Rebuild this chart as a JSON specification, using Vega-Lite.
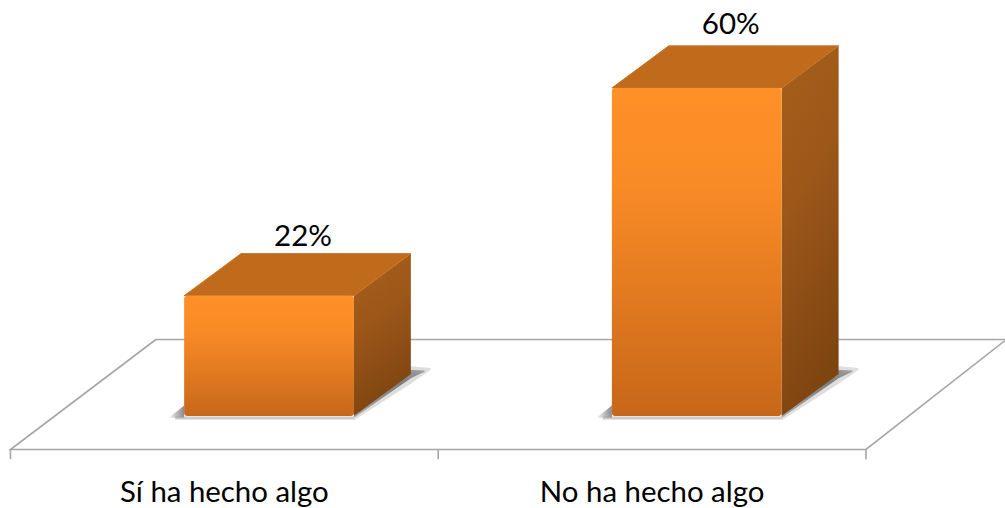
{
"$schema":"https://vega.github.io/schema/vega-lite/v6.json",
"width":1005,"height":508,"autosize":{"type":"none"},"padding":0,
"background":"#ffffff",
"config":{"view":{"stroke":null}},
"datasets":{
"floor":[{"path":"front","o":1,"x":34,"y":13.99},{"path":"front","o":2,"x":0,"y":-6.13},{"path":"front","o":3,"x":200,"y":-6.13},{"path":"front","o":4,"x":232.5,"y":13.8},{"path":"back","o":1,"x":34,"y":13.99},{"path":"back","o":2,"x":232.5,"y":13.99}],
"ticks":[{"x":0,"y":-6.13,"y2":-7.9},{"x":100,"y":-6.13,"y2":-7.9},{"x":200,"y":-6.13,"y2":-7.9}],
"shadowOuter":[{"bar":"a","x":80.3,"y":0,"y2":-0.8},{"bar":"a","x":93.6,"y":9.1,"y2":5.9},{"bar":"a","x":98.2,"y":8.8,"y2":8.4},{"bar":"b","x":180.3,"y":0,"y2":-0.8},{"bar":"b","x":193.6,"y":9.1,"y2":5.9},{"bar":"b","x":198.2,"y":8.8,"y2":8.4}],
"shadowRight":[{"bar":"a","x":80.3,"y":0,"y2":-0.3},{"bar":"a","x":93.6,"y":8.4,"y2":6.9},{"bar":"a","x":96.8,"y":8.3,"y2":8.1},{"bar":"b","x":180.3,"y":0,"y2":-0.3},{"bar":"b","x":193.6,"y":8.4,"y2":6.9},{"bar":"b","x":196.8,"y":8.3,"y2":8.1}],
"shadowLeft":[{"bar":"a","x":37.0,"y":-0.3,"y2":-0.3},{"bar":"a","x":40.6,"y":1.9,"y2":-0.3},{"bar":"b","x":137.0,"y":-0.3,"y2":-0.3},{"bar":"b","x":140.6,"y":1.9,"y2":-0.3}],
"shadowBase":[{"x":38.5,"x2":80.3,"y":-0.35},{"x":138.5,"x2":180.3,"y":-0.35}],
"front":[{"x":40.6,"x2":80.3,"y":22,"y2":0},{"x":140.6,"x2":180.3,"y":60,"y2":0}],
"side":[{"bar":"a","x":80.3,"y":22,"y2":0},{"bar":"a","x":93.6,"y":29.7,"y2":7.7},{"bar":"b","x":180.3,"y":60,"y2":0},{"bar":"b","x":193.6,"y":67.7,"y2":7.7}],
"top":[{"bar":"a","x":40.6,"x2":80.3,"y":22},{"bar":"a","x":53.9,"x2":93.6,"y":29.7},{"bar":"b","x":140.6,"x2":180.3,"y":60},{"bar":"b","x":153.9,"x2":193.6,"y":67.7}],
"values":[{"x":68.4,"y":31.1,"label":"22%"},{"x":168.4,"y":69.9,"label":"60%"}],
"categories":[{"x":50,"y":-15.7,"label":"Sí ha hecho algo"},{"x":150,"y":-15.7,"label":"No ha hecho algo"}]
},
"encoding":{
"x":{"field":"x","type":"quantitative","axis":null,"scale":{"domain":[-2.45,232.5],"nice":false,"zero":false}},
"y":{"field":"y","type":"quantitative","axis":null,"scale":{"domain":[-16.83,76.09],"nice":false,"zero":false}}
},
"layer":[
{"data":{"name":"floor"},"mark":{"type":"line","color":"#A6A6A6","strokeWidth":1.6},"encoding":{"detail":{"field":"path"},"order":{"field":"o"}}},
{"data":{"name":"ticks"},"mark":{"type":"rule","color":"#A6A6A6","strokeWidth":1.6},"encoding":{"y2":{"field":"y2"}}},
{"data":{"name":"shadowOuter"},"mark":{"type":"area","orient":"vertical","color":"#b5b5b5","opacity":0.45},"encoding":{"detail":{"field":"bar"},"y2":{"field":"y2"}}},
{"data":{"name":"shadowRight"},"mark":{"type":"area","orient":"vertical","color":{"gradient":"linear","x1":0,"y1":1,"x2":1,"y2":0,"stops":[{"offset":0,"color":"#a8a8a8"},{"offset":0.7,"color":"#7c7c7c"},{"offset":1,"color":"#a0a0a0"}]}},"encoding":{"detail":{"field":"bar"},"y2":{"field":"y2"}}},
{"data":{"name":"shadowLeft"},"mark":{"type":"area","orient":"vertical","color":{"gradient":"linear","x1":0,"y1":0,"x2":1,"y2":0,"stops":[{"offset":0,"color":"#f6f6f6"},{"offset":1,"color":"#8a8a8a"}]}},"encoding":{"detail":{"field":"bar"},"y2":{"field":"y2"}}},
{"data":{"name":"shadowBase"},"mark":{"type":"rule","color":"#a8a8a8","strokeWidth":3,"opacity":0.6},"encoding":{"x2":{"field":"x2"}}},
{"data":{"name":"side"},"mark":{"type":"area","orient":"vertical","color":{"gradient":"linear","x1":0,"y1":0,"x2":0.25,"y2":1,"stops":[{"offset":0,"color":"#A65F1B"},{"offset":0.45,"color":"#9C5719"},{"offset":1,"color":"#7F4511"}]}},"encoding":{"detail":{"field":"bar"},"y2":{"field":"y2"}}},
{"data":{"name":"top"},"mark":{"type":"area","orient":"horizontal","color":"#C06B1C","stroke":"#C97422","strokeWidth":1},"encoding":{"detail":{"field":"bar"},"x2":{"field":"x2"}}},
{"data":{"name":"front"},"mark":{"type":"rect","cornerRadius":3,"color":{"gradient":"linear","x1":0,"y1":0,"x2":0,"y2":1,"stops":[{"offset":0,"color":"#FF9028"},{"offset":0.3,"color":"#F98B26"},{"offset":1,"color":"#C76719"}]}},"encoding":{"x2":{"field":"x2"},"y2":{"field":"y2"}}},
{"data":{"name":"values"},"mark":{"type":"text","font":"Lato","fontSize":29.5,"color":"#000000","baseline":"alphabetic","align":"center"},"encoding":{"text":{"field":"label"}}},
{"data":{"name":"categories"},"mark":{"type":"text","font":"Lato","fontSize":29.4,"color":"#000000","baseline":"alphabetic","align":"center"},"encoding":{"text":{"field":"label"}}}
]
}
